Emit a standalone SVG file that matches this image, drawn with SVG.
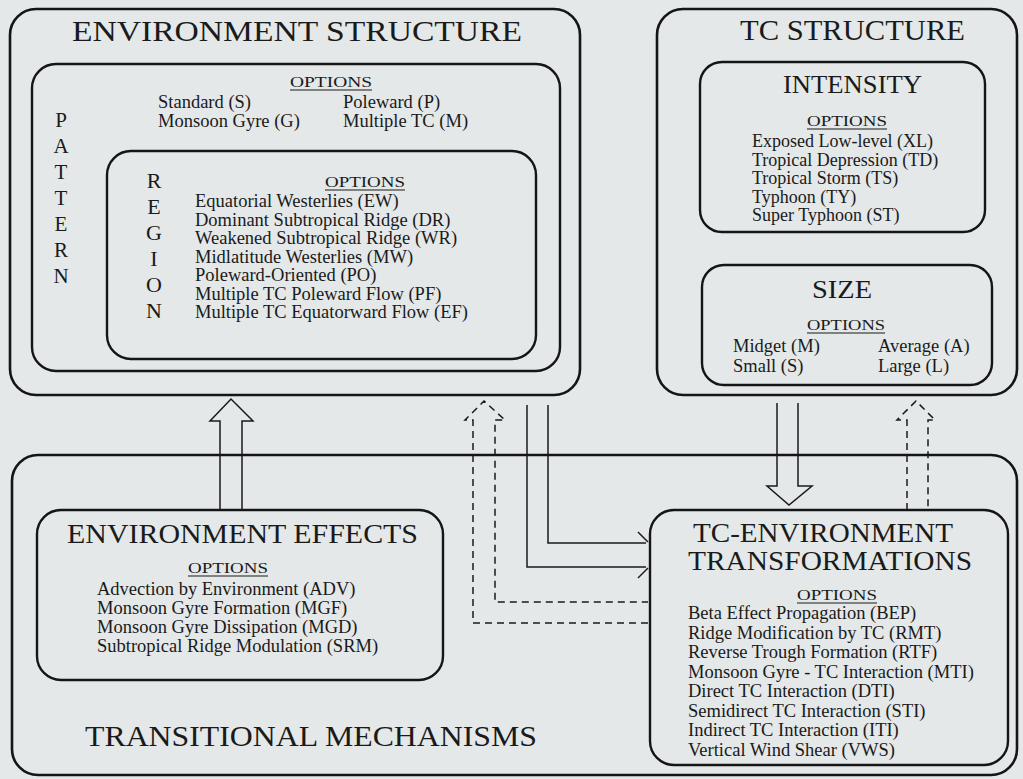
<svg xmlns="http://www.w3.org/2000/svg" width="1023" height="779" viewBox="0 0 1023 779">
<style>
.bg{fill:#e4e8e9}
.box{fill:none;stroke:#151515;stroke-width:2.6}
.ibox{fill:none;stroke:#151515;stroke-width:2.4}
.ln{fill:none;stroke:#1a1a1a;stroke-width:1.5}
.dl{fill:none;stroke:#1a1a1a;stroke-width:1.5;stroke-dasharray:7 5}
text{font-family:"Liberation Serif","Times New Roman",serif;fill:#1a1a1a}
.t1{font-size:29px}
.t2{font-size:25px}
.let{font-size:21px;text-anchor:middle}
.opt{font-size:15px;text-anchor:middle}
.it{font-size:18.5px}
.it2{font-size:18px}
.ul{stroke:#1a1a1a;stroke-width:1.2}
</style>
<rect class="bg" x="0" y="0" width="1023" height="779"/>

<g id="environment-structure">
<rect class="box" x="10" y="9" width="570" height="386" rx="26"/>
<text class="t1" x="72" y="41" textLength="450" lengthAdjust="spacingAndGlyphs">ENVIRONMENT  STRUCTURE</text>
</g>

<g id="pattern">
<rect class="ibox" x="32" y="64" width="528" height="307" rx="24"/>
<text class="let" x="61" y="127">P</text>
<text class="let" x="61" y="153">A</text>
<text class="let" x="61" y="179">T</text>
<text class="let" x="61" y="205">T</text>
<text class="let" x="61" y="231">E</text>
<text class="let" x="61" y="257">R</text>
<text class="let" x="61" y="283">N</text>
<text class="opt" x="331" y="87" textLength="82" lengthAdjust="spacingAndGlyphs">OPTIONS</text>
<line class="ul" x1="290" y1="90" x2="372" y2="90"/>
<text class="it" x="158" y="108">Standard (S)</text>
<text class="it" x="343" y="108">Poleward  (P)</text>
<text class="it" x="158" y="127">Monsoon Gyre (G)</text>
<text class="it" x="343" y="127">Multiple TC (M)</text>
</g>

<g id="region">
<rect class="ibox" x="107" y="151" width="429" height="208" rx="24"/>
<text class="let" x="154" y="188" style="font-size:22px">R</text>
<text class="let" x="154" y="214" style="font-size:22px">E</text>
<text class="let" x="154" y="240" style="font-size:22px">G</text>
<text class="let" x="154" y="266" style="font-size:22px">I</text>
<text class="let" x="154" y="292" style="font-size:22px">O</text>
<text class="let" x="154" y="318" style="font-size:22px">N</text>
<text class="opt" x="365" y="187" textLength="80" lengthAdjust="spacingAndGlyphs">OPTIONS</text>
<line class="ul" x1="325" y1="190" x2="405" y2="190"/>
<text class="it" x="195" y="207">Equatorial Westerlies (EW)</text>
<text class="it" x="195" y="225.5">Dominant Subtropical Ridge (DR)</text>
<text class="it" x="195" y="244">Weakened Subtropical Ridge (WR)</text>
<text class="it" x="195" y="262.5">Midlatitude Westerlies  (MW)</text>
<text class="it" x="195" y="281">Poleward-Oriented (PO)</text>
<text class="it" x="195" y="299.5">Multiple TC Poleward Flow (PF)</text>
<text class="it" x="195" y="318">Multiple TC Equatorward Flow (EF)</text>
</g>

<g id="tc-structure">
<rect class="box" x="657" y="9" width="360" height="386" rx="26"/>
<text class="t1" x="740" y="40" textLength="225" lengthAdjust="spacingAndGlyphs">TC  STRUCTURE</text>
</g>

<g id="intensity">
<rect class="ibox" x="700" y="62" width="285" height="170" rx="22"/>
<text class="t2" x="783" y="93" textLength="139" lengthAdjust="spacingAndGlyphs">INTENSITY</text>
<text class="opt" x="847" y="126" textLength="80" lengthAdjust="spacingAndGlyphs">OPTIONS</text>
<line class="ul" x1="807" y1="129" x2="887" y2="129"/>
<text class="it2" x="752" y="147">Exposed  Low-level (XL)</text>
<text class="it2" x="752" y="165.5">Tropical Depression (TD)</text>
<text class="it2" x="752" y="184">Tropical Storm (TS)</text>
<text class="it2" x="752" y="202.5">Typhoon (TY)</text>
<text class="it2" x="752" y="221">Super Typhoon (ST)</text>
</g>

<g id="size">
<rect class="ibox" x="702" y="265" width="290" height="120" rx="22"/>
<text class="t2" x="812" y="298" textLength="60" lengthAdjust="spacingAndGlyphs">SIZE</text>
<text class="opt" x="846" y="330" textLength="78" lengthAdjust="spacingAndGlyphs">OPTIONS</text>
<line class="ul" x1="807" y1="333" x2="885" y2="333"/>
<text class="it" x="733" y="352">Midget (M)</text>
<text class="it" x="878" y="352">Average (A)</text>
<text class="it" x="733" y="372">Small (S)</text>
<text class="it" x="878" y="372">Large (L)</text>
</g>

<g id="transitional-mechanisms">
<rect class="box" x="12" y="455" width="1005" height="320" rx="26"/>
<text class="t1" x="85" y="746" textLength="452" lengthAdjust="spacingAndGlyphs">TRANSITIONAL  MECHANISMS</text>
</g>

<g id="environment-effects">
<rect class="ibox" x="37" y="510" width="406" height="170" rx="24"/>
<text class="t1" x="67" y="543" textLength="351" lengthAdjust="spacingAndGlyphs" style="font-size:27px">ENVIRONMENT  EFFECTS</text>
<text class="opt" x="228" y="573" textLength="80" lengthAdjust="spacingAndGlyphs">OPTIONS</text>
<line class="ul" x1="188" y1="576" x2="268" y2="576"/>
<text class="it" x="97" y="595">Advection by Environment (ADV)</text>
<text class="it" x="97" y="614">Monsoon Gyre Formation (MGF)</text>
<text class="it" x="97" y="633">Monsoon Gyre Dissipation (MGD)</text>
<text class="it" x="97" y="652">Subtropical Ridge Modulation  (SRM)</text>
</g>

<g id="tc-environment-transformations">
<rect class="ibox" x="650" y="510" width="358" height="255" rx="24"/>
<text class="t1" x="693" y="542" textLength="260" lengthAdjust="spacingAndGlyphs" style="font-size:27px">TC-ENVIRONMENT</text>
<text class="t1" x="688" y="570" textLength="284" lengthAdjust="spacingAndGlyphs" style="font-size:27px">TRANSFORMATIONS</text>
<text class="opt" x="837" y="600" textLength="80" lengthAdjust="spacingAndGlyphs">OPTIONS</text>
<line class="ul" x1="797" y1="603" x2="877" y2="603"/>
<text class="it" x="688" y="619">Beta Effect Propagation (BEP)</text>
<text class="it" x="688" y="638.5">Ridge Modification by TC (RMT)</text>
<text class="it" x="688" y="658">Reverse Trough Formation (RTF)</text>
<text class="it" x="688" y="677.5">Monsoon Gyre - TC Interaction (MTI)</text>
<text class="it" x="688" y="697">Direct  TC  Interaction (DTI)</text>
<text class="it" x="688" y="716.5">Semidirect TC Interaction (STI)</text>
<text class="it" x="688" y="736">Indirect TC Interaction (ITI)</text>
<text class="it" x="688" y="755.5">Vertical Wind Shear  (VWS)</text>
</g>

<g id="connectors">
<!-- hollow up arrow: Environment Effects to Environment Structure -->
<path class="ln" d="M220,510 V421 H210 L231,399 L253,421 H242 V510"/>
<!-- dashed hollow up arrow from TC-Environment Transformations to Environment Structure -->
<path class="dl" d="M648,623 H473 V420 H465 L484,401 L505,420 H495 V602 H648"/>
<!-- solid double lines from Environment Structure to TC-Environment Transformations -->
<path class="ln" d="M548,405 V543 H646"/>
<path class="ln" d="M527,405 V567 H646"/>
<path class="ln" d="M638,532 L648,542"/>
<path class="ln" d="M638,578 L648,568"/>
<!-- hollow down arrow: TC Structure to TC-Environment Transformations -->
<path class="ln" d="M777,403 V486 H767 L789,505 L812,486 H798 V403"/>
<!-- dashed hollow up arrow: TC-Environment Transformations to TC Structure -->
<path class="dl" d="M907,510 V420 H897 L916,401 L935,420 H928 V510"/>
</g>
</svg>
